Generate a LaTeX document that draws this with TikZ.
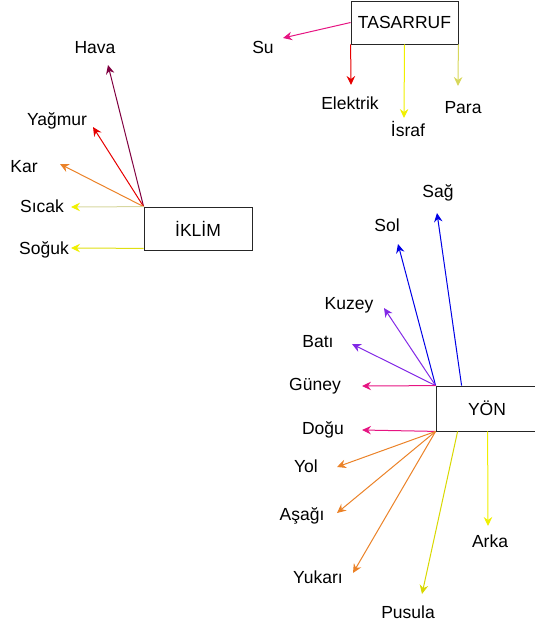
\documentclass[tikz,border=0pt]{standalone}
\usepackage{fontspec}
\setmainfont{Liberation Sans}
\usetikzlibrary{arrows.meta}
\definecolor{cPink}{RGB}{230,20,130}
\definecolor{cRed}{RGB}{230,0,0}
\definecolor{cYellow}{RGB}{240,240,0}
\definecolor{cOlive}{RGB}{215,215,90}
\definecolor{cMaroon}{RGB}{128,0,64}
\definecolor{cOrange}{RGB}{235,130,40}
\definecolor{cPale}{RGB}{215,215,160}
\definecolor{cBlue}{RGB}{0,0,230}
\definecolor{cPurple}{RGB}{130,40,230}
\tikzset{
  box/.style={draw=black!85, line width=0.8pt, inner sep=0pt, font=\fontsize{17.5}{20}\selectfont},
  lbl/.style={inner sep=0pt, font=\fontsize{17.5}{20}\selectfont},
  arr/.style={line width=1pt, -{Stealth[length=9pt,width=8.5pt,inset=3pt]}}
}
\begin{document}
\begin{tikzpicture}[x=1pt,y=-1pt]
\useasboundingbox (0,0) rectangle (535,626);
\clip (0,0) rectangle (535,626);

% TASARRUF group
\node[box, minimum width=107pt, minimum height=43pt] (tas) at (404.5,22.5) {TASARRUF};
\coordinate (suE) at (283,38);
\coordinate (elE) at (351,85);
\coordinate (isE) at (404,118);
\coordinate (paE) at (458,86);
\node[lbl] (su) at (263,47) {Su};
\node[lbl] (el) at (350,103) {Elektrik};
\node[lbl] (is) at (408,129) {İsraf};
\node[lbl] (pa) at (463,108) {Para};
\draw[arr, cPink] (tas.west) -- (suE);
\draw[arr, cRed] (tas.south west) -- (elE);
\draw[arr, cYellow] (tas.south) -- (isE);
\draw[arr, cOlive] (tas.south east) -- (paE);

% İKLİM group
\node[box, minimum width=108pt, minimum height=43pt] (ik) at (198,228.5) {İKLİM};
\coordinate (haE) at (108,65);
\coordinate (yaE) at (93,127);
\coordinate (kaE) at (60,164);
\coordinate (siE) at (71,207);
\coordinate (soE) at (71,248);
\node[lbl] (ha) at (95,48) {Hava};
\node[lbl] (ya) at (57,121) {Yağmur};
\node[lbl] (ka) at (24,167) {Kar};
\node[lbl] (si) at (42,206) {Sıcak};
\node[lbl] (so) at (44,250) {Soğuk};
\draw[arr, cMaroon] (ik.north west) -- (haE);
\draw[arr, cRed] (ik.north west) -- (yaE);
\draw[arr, cOrange] (ik.north west) -- (kaE);
\draw[arr, cPale, -{Stealth[length=9pt,width=8.5pt,inset=3pt,color=cYellow]}] (ik.north west) -- (siE);
\draw[arr, cYellow!85!gray, -{Stealth[length=9pt,width=8.5pt,inset=3pt,color=cYellow]}] ([yshift=2pt]ik.south west) -- (soE);

% YÖN group
\node[box, minimum width=110pt, minimum height=45pt] (yon) at (491,408.5) {\hspace*{-4pt}YÖN\hspace*{4pt}};
\coordinate (saS) at ([xshift=26pt]yon.north west);
\coordinate (puS) at ([xshift=22pt]yon.south west);
\coordinate (arS) at ([xshift=52pt]yon.south west);
\coordinate (saE) at (437,213);
\coordinate (slE) at (398,244);
\coordinate (kuE) at (384,308);
\coordinate (baE) at (352,344);
\coordinate (guE) at (362,386);
\coordinate (doE) at (362,430);
\coordinate (yoE) at (337,467);
\coordinate (asE) at (337,513);
\coordinate (ykE) at (353,573);
\coordinate (puE) at (422,594);
\coordinate (arE) at (488,526);
\node[lbl] (sa) at (438,193) {Sağ};
\node[lbl] (sl) at (387,225) {Sol};
\node[lbl] (ku) at (349,305) {Kuzey};
\node[lbl] (ba) at (318,342) {Batı};
\node[lbl] (gu) at (315,386) {Güney};
\node[lbl] (do) at (323,430) {Doğu};
\node[lbl] (yo) at (306,466) {Yol};
\node[lbl] (as) at (302,516) {Aşağı};
\node[lbl] (yk) at (318,577) {Yukarı};
\node[lbl] (pu) at (408,612) {Pusula};
\node[lbl] (ar) at (490,541) {Arka};
\draw[arr, cBlue] (saS) -- (saE);
\draw[arr, cBlue] (yon.north west) -- (slE);
\draw[arr, cPurple] (yon.north west) -- (kuE);
\draw[arr, cPurple] (yon.north west) -- (baE);
\draw[arr, cPink] (yon.north west) -- (guE);
\draw[arr, cPink] (yon.south west) -- (doE);
\draw[arr, cOrange] (yon.south west) -- (yoE);
\draw[arr, cOrange] (yon.south west) -- (asE);
\draw[arr, cOrange] (yon.south west) -- (ykE);
\draw[arr, cYellow!90!black] (puS) -- (puE);
\draw[arr, cYellow] (arS) -- (arE);
\end{tikzpicture}
\end{document}
